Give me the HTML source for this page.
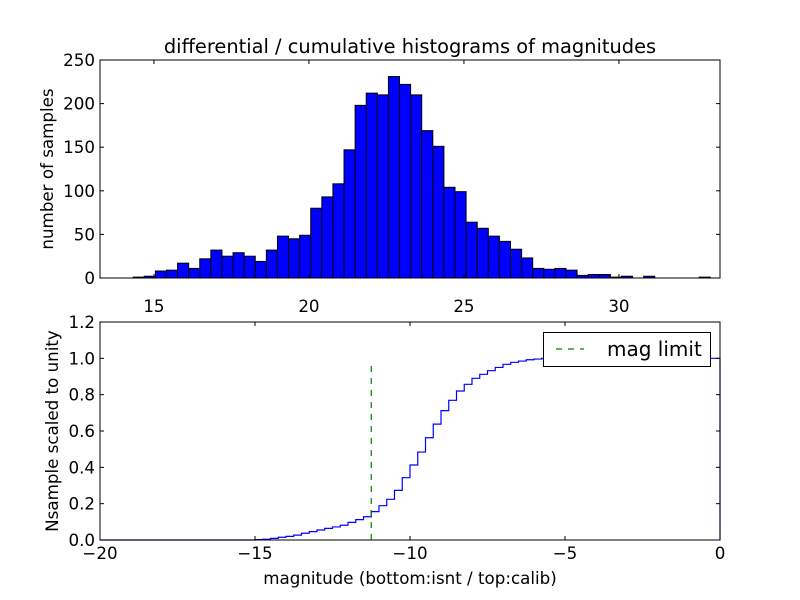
<!DOCTYPE html>
<html><head><meta charset="utf-8"><style>body{margin:0;background:#fff}svg{display:block;font-family:"DejaVu Sans","Liberation Sans",sans-serif}</style></head>
<body>
<svg id="c" width="800" height="600"></svg>
<script>
const histCounts=[1,2,8,9,17,11,22,32,25,29,25,19,32,48,45,49,80,93,108,147,198,212,210,231,222,210,169,151,104,99,64,57,48,42,33,23,11,10,11,9,3,4,4,1,2,0,2,0,0,0,0,1];
const histStart=14.33, histBinWidth=0.358;
const topXTicks=[15,20,25,30];
const topYTicks=[0,50,100,150,200,250];
const cumStart=-15.0, cumBinWidth=0.25;
const cumValues=[0.002,0.004,0.009,0.015,0.02,0.027,0.037,0.046,0.055,0.064,0.072,0.081,0.097,0.112,0.128,0.156,0.189,0.224,0.273,0.343,0.413,0.484,0.563,0.638,0.712,0.769,0.820,0.857,0.890,0.912,0.932,0.950,0.967,0.978,0.985,0.992,0.996,1.0];
const cumEnd=0;
const magLimit=-11.25, magLimitTop=0.965;
const botXTicks=[-20,-15,-10,-5,0];
const botYTicks=[0,0.2,0.4,0.6,0.8,1.0,1.2];

const NS="http://www.w3.org/2000/svg", svg=document.getElementById('c');
function el(t,a,txt,p){const e=document.createElementNS(NS,t);for(const k in a)e.setAttribute(k,a[k]);if(txt!=null)e.textContent=txt;(p||svg).appendChild(e);return e;}
const L=100,R=720;
const T1=60,B1=278,T2=322,B2=540;
const FS=16.7;
const x1=v=>L+(v-13.26)/20*(R-L), y1=v=>B1-v/250*(B1-T1);
const x2=v=>L+(v+20)/20*(R-L), y2=v=>B2-v/1.2*(B2-T2);

histCounts.forEach((c,i)=>{
 if(c<=0)return;
 const a=x1(histStart+i*histBinWidth), b=x1(histStart+(i+1)*histBinWidth);
 const r=el('rect',{x:a,y:y1(c),width:b-a,height:y1(0)-y1(c),fill:'#0000ff',stroke:'#000','stroke-width':1});
 
 
});
function axes(T,B,name){const r=el('rect',{x:L,y:T,width:R-L,height:B-T,fill:'none',stroke:'#000','stroke-width':1});}
axes(T1,B1,'top-axes-frame');
topXTicks.forEach(t=>{const x=x1(t);el('line',{x1:x,x2:x,y1:B1,y2:B1-4,stroke:'#000'});el('line',{x1:x,x2:x,y1:T1,y2:T1+4,stroke:'#000'});
 const tx=el('text',{x:x,y:B1+34,'font-size':FS,'text-anchor':'middle'},t);});
topYTicks.forEach(t=>{const y=y1(t);el('line',{x1:L,x2:L+4,y1:y,y2:y,stroke:'#000'});el('line',{x1:R,x2:R-4,y1:y,y2:y,stroke:'#000'});
 const tx=el('text',{x:L-5,y:y+6,'font-size':FS,'text-anchor':'end'},t);});
let t=el('text',{x:410,y:53,'font-size':19.4,'text-anchor':'middle'},'differential / cumulative histograms of magnitudes');
t=el('text',{x:0,y:0,'font-size':FS,'text-anchor':'middle',transform:'translate(53,169) rotate(-90)'},'number of samples');

let d='M'+x2(-20)+','+y2(0)+' L'+x2(cumStart)+','+y2(0);
cumValues.forEach((v,i)=>{const a=x2(cumStart+i*cumBinWidth);const b=i<cumValues.length-1?x2(cumStart+(i+1)*cumBinWidth):x2(cumEnd);d+=' L'+a+','+y2(v)+' L'+b+','+y2(v);});
d+=' L'+x2(cumEnd)+','+y2(0);
const p=el('path',{d:d,fill:'none',stroke:'#0000ff','stroke-width':1.2});
const ml=el('line',{x1:x2(magLimit),x2:x2(magLimit),y1:y2(0),y2:y2(magLimitTop),stroke:'#008000','stroke-width':1.2,'stroke-dasharray':'6,6'});
axes(T2,B2,'bottom-axes-frame');
botXTicks.forEach(t=>{const x=x2(t);el('line',{x1:x,x2:x,y1:B2,y2:B2-4,stroke:'#000'});el('line',{x1:x,x2:x,y1:T2,y2:T2+4,stroke:'#000'});
 const tx=el('text',{x:x,y:B2+19,'font-size':FS,'text-anchor':'middle'},t===0?'0':'\u2212'+Math.abs(t));});
botYTicks.forEach(t=>{const y=y2(t);el('line',{x1:L,x2:L+4,y1:y,y2:y,stroke:'#000'});el('line',{x1:R,x2:R-4,y1:y,y2:y,stroke:'#000'});
 const tx=el('text',{x:L-5,y:y+6,'font-size':FS,'text-anchor':'end'},t.toFixed(1));});
t=el('text',{x:410,y:584,'font-size':FS,'text-anchor':'middle'},'magnitude (bottom:isnt / top:calib)');
t=el('text',{x:0,y:0,'font-size':FS,'text-anchor':'middle',transform:'translate(58,431) rotate(-90)'},'Nsample scaled to unity');
const lg=el('g',{});
el('rect',{x:543.5,y:332.5,width:167,height:34,fill:'#fff',stroke:'#000'},null,lg);
el('line',{x1:556,x2:584,y1:349,y2:349,stroke:'#008000','stroke-width':1.2,'stroke-dasharray':'6,6'},null,lg);
el('text',{x:607,y:356,'font-size':20},'mag limit',lg);
</script>
</body></html>
